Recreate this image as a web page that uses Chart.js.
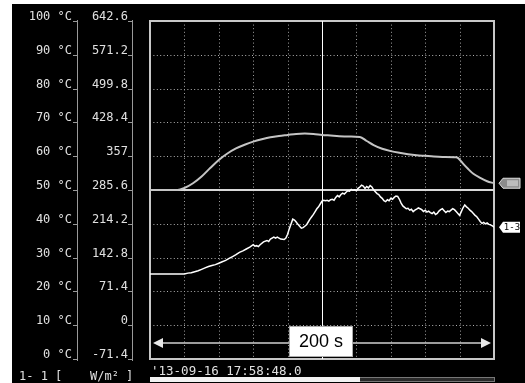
<!DOCTYPE html>
<html><head><meta charset="utf-8">
<script src="https://cdn.jsdelivr.net/npm/chart.js@4/dist/chart.umd.min.js"></script>
<style>html,body{margin:0;padding:0;background:#fff;}canvas{display:block;}</style>
</head><body>
<div style="width:525px;height:383px;position:relative"><canvas id="c" width="525" height="383"></canvas></div>
<script>
// ---- data ----
const tempTicks = [0,10,20,30,40,50,60,70,80,90,100];
const tempTickLabels = ["0 °C","10 °C","20 °C","30 °C","40 °C","50 °C","60 °C","70 °C","80 °C","90 °C","100 °C"];
const irrTicks = [-71.4,0,71.4,142.8,214.2,285.6,357,428.4,499.8,571.2,642.6];
const irrTickLabels = ["-71.4","0","71.4","142.8","214.2","285.6","357","428.4","499.8","571.2","642.6"];
const timeTicks = [0,20,40,60,80,100,120,140,160,180,200];
const spanLabel = "200 s";
const dateLabel = "'13-09-16 17:58:48.0";
const unitLeft = "1- 1 [";
const unitRight = "W/m² ]";
const cursorTime = 100;
const refTemp = 50;

const tempTime = [0,16,20,25,30,35,40,45,50,55,60,65,70,75,80,85,90,95,100,105,110,116,122,126,130,135,140,145,150,155,160,165,170,178,179,182,185,188,192,196,200];
const tempVals = [50,50,50.6,52.0,54.0,56.5,58.9,60.8,62.3,63.4,64.3,65.0,65.6,66.0,66.3,66.6,66.7,66.6,66.3,66.1,65.9,65.8,65.7,64.5,63.3,62.2,61.5,61.0,60.6,60.3,60.1,59.9,59.8,59.7,59.5,57.8,56.2,54.8,53.6,52.6,52.0];

const irrTime = [0,20,22,24,26,28,30,32,34,36,38,40,42,44,46,48,50,52,54,56,58,60,61,62,63,64,66,68,69,70,72,73,74,76,78,79,80,81,82,83,84,85,86,87,88,89,90,91,92,93,94,95,96,97,98,99,100,101,102,103,104,105,106,107,108,109,110,111,112,113,114,115,116,117,118,119,120,121,122,123,124,125,126,127,128,129,130,131,132,133,134,135,136,137,138,139,140,141,142,143,144,145,146,147,148,149,150,151,152,153,154,155,156,157,158,159,160,161,162,163,164,165,166,167,168,169,170,171,172,173,174,175,176,177,178,179,180,181,182,183,184,185,186,187,188,189,190,191,192,193,194,195,196,197,198,199,200];
const irrVals = [108,108,110,111,113,115,118,121,124,126,128,131,134,137,141,145,149,154,157,161,165,170,167,168,166,170,176,179,177,182,186,184,186,182,181,184,192,204,214,224,222,218,213,209,205,206,209,212,218,224,229,234,240,246,250,256,262,264,263,264,262,265,266,264,270,274,271,276,279,277,281,284,283,287,285,286,284,289,292,296,294,289,293,290,295,292,286,282,278,276,271,268,263,261,265,263,268,266,270,273,272,266,258,252,249,246,247,243,245,240,243,245,248,246,244,240,243,239,241,238,236,239,234,236,241,244,246,242,238,241,240,243,246,244,240,236,232,240,248,254,250,247,243,240,236,232,229,224,219,215,217,214,216,213,212,210,207];

const mono = '"DejaVu Sans Mono", "Liberation Mono", monospace';

const deco = {
  id: 'deco',
  beforeDraw(chart) {
    const ctx = chart.ctx;
    ctx.save();
    ctx.fillStyle = '#fff';
    ctx.fillRect(0,0,525,383);
    ctx.fillStyle = '#000';
    ctx.fillRect(12,4,513,379);
    ctx.restore();
  },
  beforeDatasetsDraw(chart) {
    const ctx = chart.ctx, a = chart.chartArea;
    const xs = chart.scales.x, yt = chart.scales.yT, yi = chart.scales.yI;
    ctx.save();
    // dotted grid
    ctx.lineWidth = 1;
    ctx.setLineDash([1,2.4]);
    ctx.strokeStyle = '#b0b0b0';
    tempTicks.forEach(v => {
      const y = Math.round(yt.getPixelForValue(v)) + 0.5;
      if (y < a.top + 2 || y > a.bottom - 2) return;
      ctx.beginPath(); ctx.moveTo(a.left, y); ctx.lineTo(a.right, y); ctx.stroke();
    });
    ctx.strokeStyle = '#a0a0a0';
    ctx.setLineDash([1,2.6]);
    timeTicks.forEach(v => {
      const x = Math.round(xs.getPixelForValue(v)) + 0.5;
      if (x < a.left + 2 || x > a.right - 2) return;
      ctx.beginPath(); ctx.moveTo(x, a.top); ctx.lineTo(x, a.bottom); ctx.stroke();
    });
    ctx.setLineDash([]);
    // border
    ctx.strokeStyle = '#c8c8c8';
    ctx.lineWidth = 2;
    ctx.strokeRect(a.left, a.top, a.right - a.left, a.bottom - a.top);
    // reference line at 50 °C
    const yr = yt.getPixelForValue(refTemp);
    ctx.strokeStyle = '#d8d8d8';
    ctx.lineWidth = 2;
    ctx.beginPath(); ctx.moveTo(a.left, yr); ctx.lineTo(a.right, yr); ctx.stroke();
    // cursor
    const xc = Math.round(xs.getPixelForValue(cursorTime)) + 0.5;
    ctx.strokeStyle = '#ffffff';
    ctx.lineWidth = 1;
    ctx.beginPath(); ctx.moveTo(xc, a.top); ctx.lineTo(xc, a.bottom); ctx.stroke();

    // axis labels
    ctx.font = '12px ' + mono;
    ctx.fillStyle = '#e0e0e0';
    ctx.textAlign = 'right';
    ctx.textBaseline = 'alphabetic';
    ctx.strokeStyle = '#9a9a9a';
    ctx.lineWidth = 1;
    // bracket lines
    [77.5, 132.5].forEach(x => {
      ctx.beginPath(); ctx.moveTo(x, yt.getPixelForValue(100) - 1); ctx.lineTo(x, yt.getPixelForValue(0) + 2); ctx.stroke();
    });
    tempTicks.forEach((v,i) => {
      const y = yt.getPixelForValue(v);
      const yy = Math.round(y) + 0.5;
      ctx.fillText(tempTickLabels[i], 72, y - 1);
      ctx.beginPath(); ctx.moveTo(73, yy); ctx.lineTo(77.5, yy); ctx.stroke();
    });
    irrTicks.forEach((v,i) => {
      const y = yi.getPixelForValue(v);
      const yy = Math.round(y) + 0.5;
      ctx.fillText(irrTickLabels[i], 128, y - 1);
      ctx.beginPath(); ctx.moveTo(128, yy); ctx.lineTo(132.5, yy); ctx.stroke();
    });
    ctx.textAlign = 'left';
    ctx.fillText(unitLeft, 19, 380);
    ctx.fillText(unitRight, 90, 380);
    ctx.font = '12.5px ' + mono;
    ctx.fillText(dateLabel, 151, 375);
    // progress bar
    ctx.fillStyle = '#2a2a2a';
    ctx.fillRect(a.left, 377, a.right - a.left + 1, 5);
    ctx.strokeStyle = '#777';
    ctx.strokeRect(a.left + 0.5, 377.5, a.right - a.left, 4);
    ctx.fillStyle = '#f2f2f2';
    ctx.fillRect(a.left, 377, 210, 5);
    ctx.restore();
  },
  afterDatasetsDraw(chart) {
    const ctx = chart.ctx, a = chart.chartArea;
    const xs = chart.scales.x, yt = chart.scales.yT, yi = chart.scales.yI;
    ctx.save();
    // span arrow
    const ya = 343;
    const x0 = xs.getPixelForValue(0) + 3, x1 = xs.getPixelForValue(200) - 3;
    ctx.strokeStyle = '#d0d0d0';
    ctx.lineWidth = 1.5;
    ctx.beginPath(); ctx.moveTo(x0 + 8, ya); ctx.lineTo(x1 - 8, ya); ctx.stroke();
    ctx.fillStyle = '#e8e8e8';
    ctx.beginPath(); ctx.moveTo(x0, ya); ctx.lineTo(x0 + 10, ya - 5); ctx.lineTo(x0 + 10, ya + 5); ctx.closePath(); ctx.fill();
    ctx.beginPath(); ctx.moveTo(x1, ya); ctx.lineTo(x1 - 10, ya - 5); ctx.lineTo(x1 - 10, ya + 5); ctx.closePath(); ctx.fill();
    // label box
    ctx.fillStyle = '#ffffff';
    ctx.fillRect(289, 326, 64, 31);
    ctx.strokeStyle = '#aaa';
    ctx.lineWidth = 1;
    ctx.strokeRect(289.5, 326.5, 63, 30);
    ctx.fillStyle = '#000';
    ctx.font = '18px "Liberation Sans", Arial, sans-serif';
    ctx.textAlign = 'center';
    ctx.textBaseline = 'middle';
    ctx.fillText(spanLabel, 321, 342);
    // end markers
    const yT = yt.getPixelForValue(tempVals[tempVals.length - 1]);
    ctx.fillStyle = '#8c8c8c';
    ctx.strokeStyle = '#e0e0e0';
    ctx.beginPath();
    ctx.moveTo(499, yT); ctx.lineTo(503, yT - 5); ctx.lineTo(520, yT - 5); ctx.lineTo(520, yT + 5); ctx.lineTo(503, yT + 5); ctx.closePath();
    ctx.fill(); ctx.stroke();
    ctx.fillStyle = '#bdbdbd';
    ctx.fillRect(507, yT - 3, 11, 6);
    const yI = yi.getPixelForValue(irrVals[irrVals.length - 1]);
    ctx.fillStyle = '#ffffff';
    ctx.beginPath();
    ctx.moveTo(499, yI); ctx.lineTo(503, yI - 5.5); ctx.lineTo(520, yI - 5.5); ctx.lineTo(520, yI + 5.5); ctx.lineTo(503, yI + 5.5); ctx.closePath();
    ctx.fill();
    ctx.fillStyle = '#000';
    ctx.font = '9px ' + mono;
    ctx.fillText('1-3', 512, yI + 0.5);
    ctx.restore();
  }
};

new Chart(document.getElementById('c'), {
  type: 'line',
  data: {
    datasets: [
      {
        label: 'temp',
        data: tempTime.map((t,i) => ({x:t, y:tempVals[i]})),
        yAxisID: 'yT',
        borderColor: '#c4c4c4',
        borderWidth: 2,
        pointRadius: 0,
        cubicInterpolationMode: 'monotone',
        fill: false
      },
      {
        label: 'irr',
        data: irrTime.map((t,i) => ({x:t, y:irrVals[i]})),
        yAxisID: 'yI',
        borderColor: '#ffffff',
        borderWidth: 1.5,
        pointRadius: 0,
        tension: 0,
        fill: false
      }
    ]
  },
  options: {
    responsive: false,
    animation: false,
    events: [],
    layout: { padding: { left: 150, top: 21, right: 31, bottom: 24 } },
    plugins: { legend: { display: false }, tooltip: { enabled: false } },
    scales: {
      x: { type: 'linear', min: 0, max: 200, display: false },
      yT: { type: 'linear', min: 0, max: 100, display: false },
      yI: { type: 'linear', min: -71.4, max: 642.6, display: false }
    }
  },
  plugins: [deco]
});
</script>
</body></html>
